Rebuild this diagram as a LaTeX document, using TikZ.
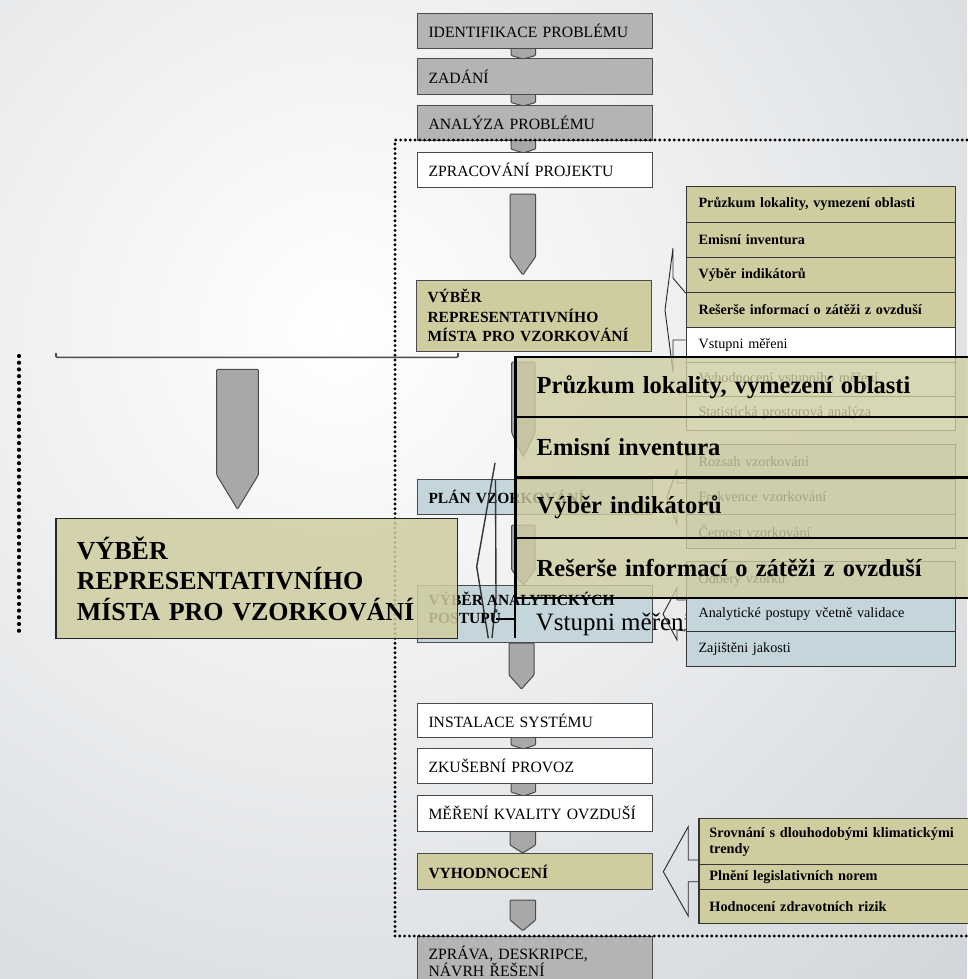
\documentclass[tikz,border=0pt]{standalone}
\usepackage{fontspec}
\setmainfont{Liberation Serif}
\definecolor{bgout}{RGB}{210,214,218}
\definecolor{boxgray}{RGB}{180,180,180}
\definecolor{tabgray}{RGB}{168,168,168}
\definecolor{boxolive}{RGB}{207,205,160}
\definecolor{boxblue}{RGB}{196,214,220}
\definecolor{edge}{RGB}{75,75,75}
\newcommand{\fsz}[2]{\fontsize{#1}{#2}\selectfont}
\newcommand{\grayarrow}[5]{\draw[garrow] (#1,#3) -- (#2,#3) -- (#2,#4) -- ({(#1+#2)/2},#5) -- (#1,#4) -- cycle;}
\begin{document}
\begin{tikzpicture}[x=1pt,y=-1pt,
  chainbox/.style={draw=edge,line width=1pt,anchor=north west,inner xsep=11pt,inner ysep=0pt,align=left,font=\fsz{15.7}{18}},
  sz/.style 2 args={text width=#1,minimum height=#2},
  listrow/.style={draw=edge!70!black,line width=1.1pt,anchor=north west,inner xsep=12.3pt,inner ysep=0pt,align=left,text width=244.7pt,font=\fsz{14.2}{16}},
  garrow/.style={draw=edge,fill=tabgray,line width=1pt,rounded corners=1pt},
  chevpath/.style={draw=black!85,line width=0.9pt},
  dotline/.style={line width=3.2pt,line cap=round,dash pattern=on 0pt off 4.8pt},
  glitch/.style={draw=black!80,line width=1.4pt},
  ovrow/.style={draw=black,line width=2.2pt,fill=boxolive,fill opacity=0.8,text opacity=1,anchor=north west,inner xsep=20.6pt,inner ysep=0pt,align=left,minimum height=#1,text width=418.8pt,font=\bfseries\fsz{24.5}{30}},
]
\useasboundingbox (0,0) rectangle (967,979);
% background
\fill[bgout] (0,0) rectangle (967,979);
\begin{scope}
\clip (0,0) rectangle (967,979);
\shade[inner color=white,outer color=bgout] (340,330) circle[radius=900pt];
\end{scope}

% tabs and arrows of the main chain
\grayarrow{511}{535.6}{46}{55.5}{59}
\grayarrow{511}{535.6}{93}{102.5}{106}
\grayarrow{511}{535.6}{139}{149}{153}
\grayarrow{510}{535.6}{194}{256.7}{275}
\grayarrow{511.7}{535}{362}{433}{457}
\grayarrow{511.7}{535}{525}{570}{585}
\grayarrow{509}{534}{643}{675}{689}
\grayarrow{511}{535.6}{736}{745}{749}
\grayarrow{511}{535.6}{782}{792}{796}
\grayarrow{510}{535.6}{830}{845}{853}
\grayarrow{510}{535.6}{900}{920}{930.7}

% main chain boxes
\node[chainbox,fill=boxgray,sz={213pt}{34.4pt}] (ident) at (417,13.3) {IDENTIFIKACE PROBLÉMU};
\node[chainbox,fill=boxgray,sz={213pt}{35.7pt}] (zadani) at (417,58.3) {ZADÁNÍ};
\node[chainbox,fill=boxgray,sz={213pt}{35pt}] (analyza) at (417,105) {ANALÝZA PROBLÉMU};
\node[chainbox,fill=white,sz={213pt}{35pt}] (zprac) at (417,152.3) {ZPRACOVÁNÍ PROJEKTU};
\node[chainbox,fill=boxolive,font=\bfseries\fsz{15.5}{19.5},sz={212.6pt}{70.7pt}] (vyber) at (416,280) {VÝBĚR\\REPRESENTATIVNÍHO\\MÍSTA PRO VZORKOVÁNÍ};
\node[chainbox,fill=boxblue,font=\bfseries\fsz{15.5}{18},sz={213pt}{34.5pt}] (plan) at (417,479) {PLÁN VZORKOVÁNÍ};
\node[chainbox,fill=boxblue,sz={213pt}{57pt}] (vyberan) at (417,585) {};
\node[chainbox,fill=white,sz={213pt}{34.6pt}] (instal) at (417,702.7) {INSTALACE SYSTÉMU};
\node[chainbox,fill=white,sz={213pt}{35pt}] (zkus) at (417,748.3) {ZKUŠEBNÍ PROVOZ};
\node[chainbox,fill=white,sz={213pt}{35.7pt}] (mereni) at (417,795) {MĚŘENÍ KVALITY OVZDUŠÍ};
\node[chainbox,fill=boxolive,font=\bfseries\fsz{15.5}{18},sz={213pt}{36pt}] (vyhod) at (417,853.3) {VYHODNOCENÍ};
\node[chainbox,fill=boxgray,font=\fsz{15.7}{16.5},sz={213pt}{50pt}] (zprava) at (417,936) {ZPRÁVA, DESKRIPCE,\\NÁVRH ŘEŠENÍ};

% list 1
\node[listrow,fill=boxolive,font=\bfseries\fsz{14.2}{16},minimum height=35.5pt] (l1a) at (685.7,186) {Průzkum lokality, vymezení oblasti};
\node[listrow,fill=boxolive,font=\bfseries\fsz{14.2}{16},minimum height=35.5pt] (l1b) at (685.7,221.5) {Emisní inventura};
\node[listrow,fill=boxolive,font=\bfseries\fsz{14.2}{16},minimum height=35pt] (l1c) at (685.7,257) {Výběr indikátorů};
\node[listrow,fill=boxolive,font=\bfseries\fsz{14.2}{16},minimum height=35pt] (l1d) at (685.7,292) {Rešerše informací o zátěži z ovzduší};
\node[listrow,fill=white,minimum height=34.5pt] (l1e) at (685.7,327) {Vstupni měřeni};
\node[listrow,fill=white,minimum height=34.5pt] (l1f) at (685.7,361.5) {Vyhodnocení vstupního měření};
\node[listrow,fill=white,minimum height=34pt] (l1g) at (685.7,396) {Statistická prostorová analýza};
\draw[chevpath] (l1c.south west) -- (673,278) -- (673,248) -- (665,310) -- (673,372) -- (673,340) -- (685.7,340);

% list 2
\node[listrow,fill=boxblue,minimum height=35pt] (l2a) at (685.7,444) {Rozsah vzorkování};
\node[listrow,fill=boxblue,minimum height=35pt] (l2b) at (685.7,479) {Frekvence vzorkování};
\node[listrow,fill=boxblue,minimum height=34.3pt] (l2c) at (685.7,514) {Četnost vzorkování};
\draw[chevpath] (685.7,483) -- (677,483) -- (677,470) -- (667,497) -- (677,524) -- (677,511) -- (685.7,511);

% list 3
\node[listrow,fill=boxblue,minimum height=36pt] (l3a) at (685.7,561) {Odběry vzorků};
\node[listrow,fill=boxblue,minimum height=34pt] (l3b) at (685.7,597) {Analytické postupy včetně validace};
\node[listrow,fill=boxblue,minimum height=35pt] (l3c) at (685.7,631) {Zajištěni jakosti};
\draw[chevpath] (685.7,600) -- (677,600) -- (677,588) -- (663,614) -- (677,640) -- (677,630) -- (l3c.north west);

% list 4
\node[listrow,fill=boxolive,font=\bfseries\fsz{14.3}{15.5},inner xsep=10.5pt,text width=255.6pt,minimum height=46pt] (l4a) at (698.4,818.3) {Srovnání s dlouhodobými klimatickými\\trendy};
\node[listrow,fill=boxolive,font=\bfseries\fsz{14.3}{15.5},inner xsep=10.5pt,text width=255.6pt,minimum height=25pt] (l4b) at (698.4,864.3) {Plnění legislativních norem};
\node[listrow,fill=boxolive,font=\bfseries\fsz{14.3}{15.5},inner xsep=10.5pt,text width=255.6pt,minimum height=34pt] (l4c) at (698.4,889.3) {Hodnocení zdravotních rizik};
\draw[chevpath] (698.4,860) -- (688.2,860) -- (688.2,826.7) -- (663.3,871.7) -- (688.2,916) -- (688.2,881.7) -- (698.4,881.7);

% dotted frame
\draw[dotline] (967,140) -- (395,140) -- (395,936) -- (967,936);

% stray lines of the zoom frame
\draw[glitch] (495,463) -- (476.7,566.7) -- (488.3,638.3);
\draw[glitch] (495.5,480) -- (496,597) -- (492,638);

% enlarged overlay
\node[ovrow=60.2pt] (o1) at (515,356) {Průzkum lokality, vymezení oblasti};
\node[ovrow=60.2pt] (o2) at (515,416.2) {Emisní inventura};
\node[ovrow=60.2pt] (o3) at (515,476.4) {Výběr indikátorů};
\node[ovrow=60.2pt] (o4) at (515,536.6) {Rešerše informací o zátěži z ovzduší};
\coordinate (obot) at (515,638);
\draw[black,line width=2.6pt] (o1.north west) -- (obot);
\draw[black,line width=2pt] (496,619.3) -- (515,619.3);
\begin{scope}
\clip (515,597) rectangle (685.2,660);
\node[anchor=base west,inner sep=0pt,font=\fsz{25}{30}] (o5) at (535.6,630) {Vstupni měřeni};
\end{scope}
\node[anchor=north west,inner sep=0pt,align=left,font=\bfseries\fsz{15.5}{18}] (vyberantext) at (428.5,591.5) {VÝBĚR ANALYTICKÝCH\\POSTUPŮ};

% enlarged left part
\draw[edge,line width=1.6pt,rounded corners=1pt] (56,353) -- (56,357.3) -- (458,357.3) -- (458,353);
\draw[line width=4.2pt,line cap=round,dash pattern=on 0pt off 6.7pt] (19,356) -- (19,634);
\grayarrow{216.7}{258.3}{369.3}{475}{509.3}
\node[draw=black!85,line width=1.6pt,fill=boxolive,fill opacity=0.85,text opacity=1,anchor=north west,inner xsep=21pt,inner ysep=0pt,align=left,text width=359.7pt,minimum height=120pt,font=\bfseries\fsz{26}{30.5}] (bigvyber) at (55,517.7) {VÝBĚR\\REPRESENTATIVNÍHO\\MÍSTA PRO VZORKOVÁNÍ};
\end{tikzpicture}
\end{document}
